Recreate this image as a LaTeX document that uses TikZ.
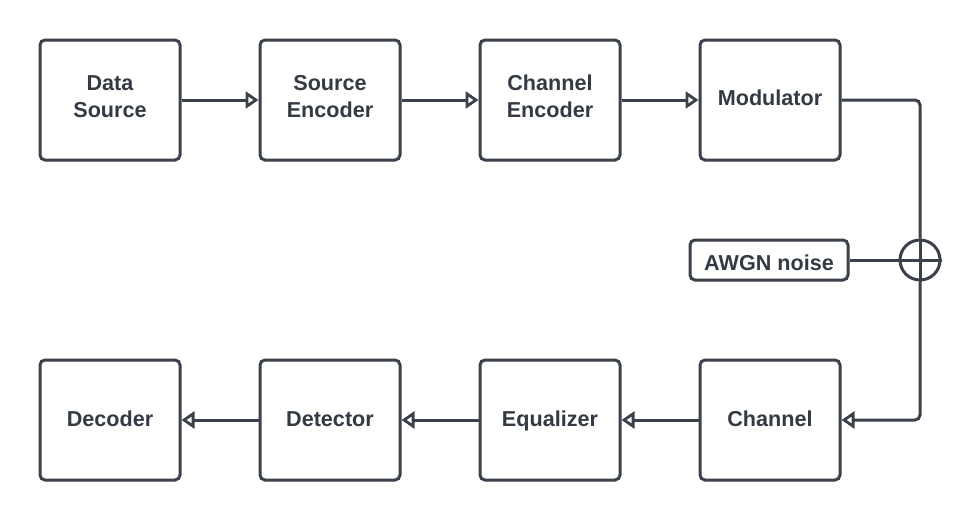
\documentclass[tikz,border=0pt]{standalone}
\usepackage{fontspec}
\setmainfont{Liberation Sans}
\usetikzlibrary{arrows.meta}
\definecolor{ink}{HTML}{3A414A}
\definecolor{txt}{HTML}{333A44}
\begin{document}
\begin{tikzpicture}[x=1pt,y=-1pt,
  blk/.style={draw=ink,line width=3pt,rounded corners=5pt,minimum width=140pt,minimum height=120pt,inner sep=0pt,align=center,font=\fontsize{21.6}{27}\selectfont\bfseries,text=txt,text height=15.4pt,text depth=2pt},
  twoline/.style={text height=42.4pt,text depth=7pt},
  conn/.style={draw=ink,line width=3pt,rounded corners=5pt,-{Triangle[open,length=13pt,width=17pt,line width=2.8pt]}},
  wire/.style={draw=ink,line width=3pt,rounded corners=5pt}]
\useasboundingbox (0,0) rectangle (980,520);
\node[blk,twoline] (ds) at (110,100) {Data\\Source};
\node[blk,twoline] (se) at (330,100) {Source\\Encoder};
\node[blk,twoline] (ce) at (550,100) {Channel\\Encoder};
\node[blk,text depth=5.4pt] (mo) at (770,100) {Modulator};
\node[blk] (de) at (110,420) {Decoder};
\node[blk] (dt) at (330,420) {Detector};
\node[blk] (eq) at (550,420) {Equalizer};
\node[blk] (ch) at (770,420) {Channel};
\node[blk,minimum width=158pt,minimum height=40pt,text height=20pt,text depth=0pt] (aw) at (769,260) {AWGN noise};
\node[draw=ink,line width=3pt,circle,minimum size=40pt,inner sep=0pt] (sum) at (920,260) {};
\draw[draw=ink,line width=3pt] (sum.north) -- (sum.south) (sum.west) -- (sum.east);
\draw[conn] (ds) -- (se);
\draw[conn] (se) -- (ce);
\draw[conn] (ce) -- (mo);
\draw[wire] (mo.east) -| (sum.north);
\draw[conn] (sum.south) |- (ch.east);
\draw[wire] (aw.east) -- (sum.west);
\draw[conn] (ch) -- (eq);
\draw[conn] (eq) -- (dt);
\draw[conn] (dt) -- (de);
\end{tikzpicture}
\end{document}
